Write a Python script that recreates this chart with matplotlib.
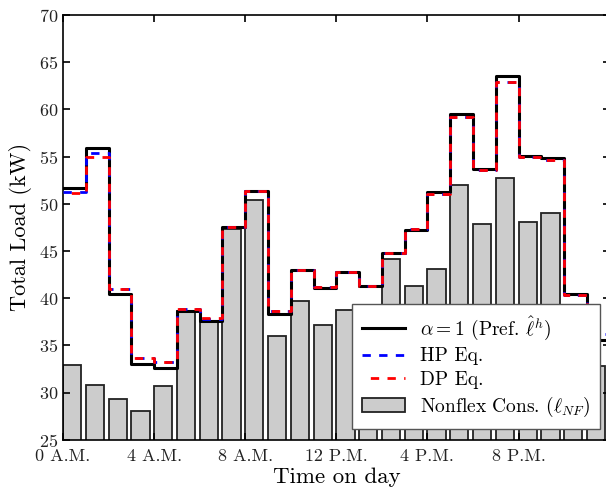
import matplotlib
matplotlib.use("Agg")
import matplotlib.pyplot as plt
import numpy as np

plt.rcParams['font.family'] = 'serif'
plt.rcParams['font.serif'] = ['cmr10']
plt.rcParams['mathtext.fontset'] = 'cm'
plt.rcParams['axes.unicode_minus'] = False
plt.rcParams['axes.formatter.use_mathtext'] = True

hours = np.arange(24)
pref = [51.7, 55.9, 40.4, 33.05, 32.6, 38.7, 37.6, 47.5, 51.4, 38.3, 43.0, 41.1,
        42.8, 41.3, 44.8, 47.2, 51.2, 59.5, 53.7, 63.5, 55.1, 54.8, 40.4, 35.6]
hp_eq = [51.3, 55.4, 41.0, 33.7, 33.2, 38.9, 37.8, 47.5, 51.4, 38.6, 43.0, 41.2,
         42.8, 41.3, 44.8, 47.3, 51.0, 59.2, 53.6, 62.9, 55.0, 54.6, 40.3, 36.2]
dp_eq = [51.1, 55.0, 41.0, 33.7, 33.2, 38.9, 37.9, 47.5, 51.4, 38.6, 43.0, 41.2,
         42.8, 41.3, 44.8, 47.3, 51.0, 59.2, 53.6, 62.9, 55.0, 54.6, 40.3, 36.3]
nonflex = [32.9, 30.8, 29.3, 28.1, 30.7, 38.7, 37.5, 47.3, 50.4, 36.0, 39.7, 37.2,
           38.8, 37.0, 44.2, 41.3, 43.1, 52.0, 47.9, 52.7, 48.1, 49.0, 37.5, 32.8]
tick_pos = [0, 4, 8, 12, 16, 20]
tick_labels = ['0 A.M.', '4 A.M.', '8 A.M.', '12 P.M.', '4 P.M.', '8 P.M.']

fig = plt.figure(figsize=(6.06, 4.91), dpi=100)
ax = fig.add_axes([0.104, 0.104, 0.902, 0.8656])

bars = ax.bar(hours, nonflex, width=0.8, align='edge', color='#cccccc',
              edgecolor='#222222', linewidth=1.3, zorder=1)

xs = np.arange(25)
l1, = ax.step(xs, pref + [pref[-1]], where='post', color='black', lw=2.2, zorder=3)
l2, = ax.step(xs, hp_eq + [hp_eq[-1]], where='post', color='blue', lw=2,
              ls=(0, (3, 3)), zorder=4)
l3, = ax.step(xs, dp_eq + [dp_eq[-1]], where='post', color='red', lw=2,
              ls=(3, (3, 3)), zorder=5)

ax.set_xlim(0, 24)
ax.set_ylim(25, 70)
ax.set_xticks(tick_pos)
ax.set_xticklabels(tick_labels)
ax.set_yticks(np.arange(25, 71, 5))
ax.tick_params(direction='in', top=True, right=True, length=5, width=1.2,
               labelsize=13, labelcolor='#222222')
ax.tick_params(axis='x', pad=6)
for s in ax.spines.values():
    s.set_linewidth(1.2)

ax.set_xlabel('Time on day', fontsize=16.5, labelpad=3)
ax.set_ylabel('Total Load (kW)', fontsize=16, labelpad=5)

leg = ax.legend([l1, l2, l3, bars],
                [r'$\alpha=1$ (Pref. $\hat{\ell}^h$)', 'HP Eq.', 'DP Eq.',
                 r'Nonflex Cons. ($\ell_{NF}$)'],
                loc='lower right', bbox_to_anchor=(0.983, 0.026), borderaxespad=0,
                fancybox=False, framealpha=1, edgecolor='#555555', fontsize=14,
                handlelength=2.2, labelspacing=0.3, borderpad=0.5)
leg.set_zorder(10)

fig.savefig('out.png', dpi=100)
